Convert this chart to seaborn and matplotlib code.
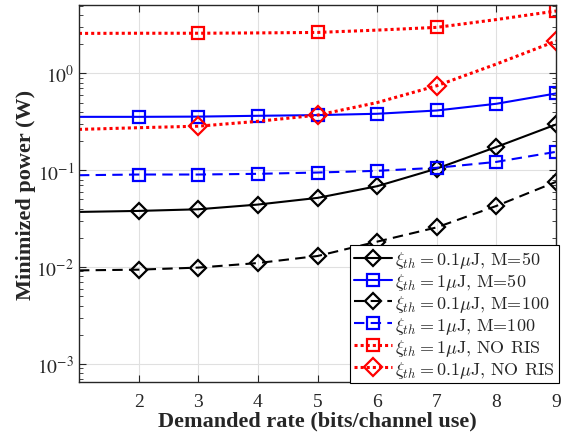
import numpy as np
import pandas as pd
import matplotlib
matplotlib.use("Agg")
import matplotlib.pyplot as plt
from matplotlib.font_manager import FontProperties
import seaborn as sns

rate = [1, 2, 3, 4, 5, 6, 7, 8, 9]
p_01uJ_M50 = [0.0371, 0.0380, 0.0395, 0.0442, 0.0518, 0.0684, 0.104, 0.174, 0.297]
p_1uJ_M50 = [0.356, 0.356, 0.358, 0.365, 0.371, 0.383, 0.414, 0.486, 0.621]
p_01uJ_M100 = [0.00924, 0.0094, 0.00987, 0.0110, 0.0130, 0.0183, 0.0257, 0.0428, 0.0759]
p_1uJ_M100 = [0.0888, 0.0903, 0.0903, 0.0918, 0.0947, 0.0986, 0.106, 0.122, 0.155]
p_1uJ_noRIS = [2.59, 2.60, 2.60, 2.62, 2.65, 2.80, 2.99, 3.60, 4.41]
p_01uJ_noRIS = [0.264, 0.275, 0.285, 0.320, 0.371, 0.50, 0.746, 1.25, 2.16]

labels = [
    r'$\xi_{th}=0.1\mu$J, M=50',
    r'$\xi_{th}=1\mu$J, M=50',
    r'$\xi_{th}=0.1\mu$J, M=100',
    r'$\xi_{th}=1\mu$J, M=100',
    r'$\xi_{th}=1\mu$J, NO RIS',
    r'$\xi_{th}=0.1\mu$J, NO RIS',
]
series = [p_01uJ_M50, p_1uJ_M50, p_01uJ_M100, p_1uJ_M100, p_1uJ_noRIS, p_01uJ_noRIS]
yticks = [1e-3, 1e-2, 1e-1, 1e0]
ytick_labels = [r'$10^{-3}$', r'$10^{-2}$', r'$10^{-1}$', r'$10^{0}$']
xticks = [2, 3, 4, 5, 6, 7, 8, 9]

sns.set_style("ticks")
plt.rcParams['font.family'] = ['Liberation Serif', 'DejaVu Serif']
plt.rcParams['mathtext.fontset'] = 'stix'

every = list(range(1, 9))
styles = [
    dict(color='black', ls='-', marker='D', ms=8, lw=1.5, markevery=every),
    dict(color='#0000ff', ls='-', marker='s', ms=8, lw=1.5, markevery=every),
    dict(color='black', ls=(0, (5, 3)), marker='D', ms=8, lw=1.5, markevery=every),
    dict(color='#0000ff', ls=(0, (5, 3)), marker='s', ms=8, lw=1.5, markevery=every),
    dict(color='#ff0000', ls=(0, (1, 1)), marker='s', ms=8.5, lw=2.2, markevery=[2, 4, 6, 8]),
    dict(color='#ff0000', ls=(0, (1, 1)), marker='D', ms=9, lw=2.2, markevery=[2, 4, 6, 8]),
]

fig = plt.figure(figsize=(5.68, 4.39), dpi=100)
ax = fig.add_axes([0.139, 0.1276, 0.840, 0.858])

for vals, lab, st in zip(series, labels, styles):
    df = pd.DataFrame({'rate': rate, 'power': vals})
    sns.lineplot(data=df, x='rate', y='power', ax=ax, label=lab,
                 color=st['color'], linestyle=st['ls'], linewidth=st['lw'],
                 marker=st['marker'], markersize=st['ms'], markevery=st['markevery'],
                 markerfacecolor='none', markeredgecolor=st['color'], markeredgewidth=1.6)

ax.set_yscale('log')
ax.set_xlim(1, 9)
ax.set_ylim(6.5e-4, 5.05)
ax.set_xticks(xticks)
ax.set_yticks(yticks)
ax.set_yticklabels(ytick_labels)
ax.grid(True, which='major', color='#e0e0e0', lw=0.8)
ax.tick_params(which='both', direction='in', top=True, right=True, labelsize=14)
ax.tick_params(axis='x', pad=8)
ax.tick_params(which='major', length=5)
ax.tick_params(which='minor', length=3)
for s in ax.spines.values():
    s.set_color('#262626')
    s.set_linewidth(1.0)

ax.set_xlabel('Demanded rate (bits/channel use)', fontsize=16, fontweight='bold', labelpad=0)
ax.set_ylabel('Minimized power (W)', fontsize=16, fontweight='bold', labelpad=0)

prop = FontProperties(family='cmr10', size=13, math_fontfamily='cm')
leg = ax.legend(loc='lower right', bbox_to_anchor=(1.006, -0.003), prop=prop,
                frameon=True, fancybox=False, edgecolor='black', framealpha=1,
                borderpad=0.2, labelspacing=0.05, handlelength=2.1, handletextpad=0.2,
                borderaxespad=0)
leg.get_frame().set_linewidth(0.8)

fig.savefig('out.png', dpi=100)
